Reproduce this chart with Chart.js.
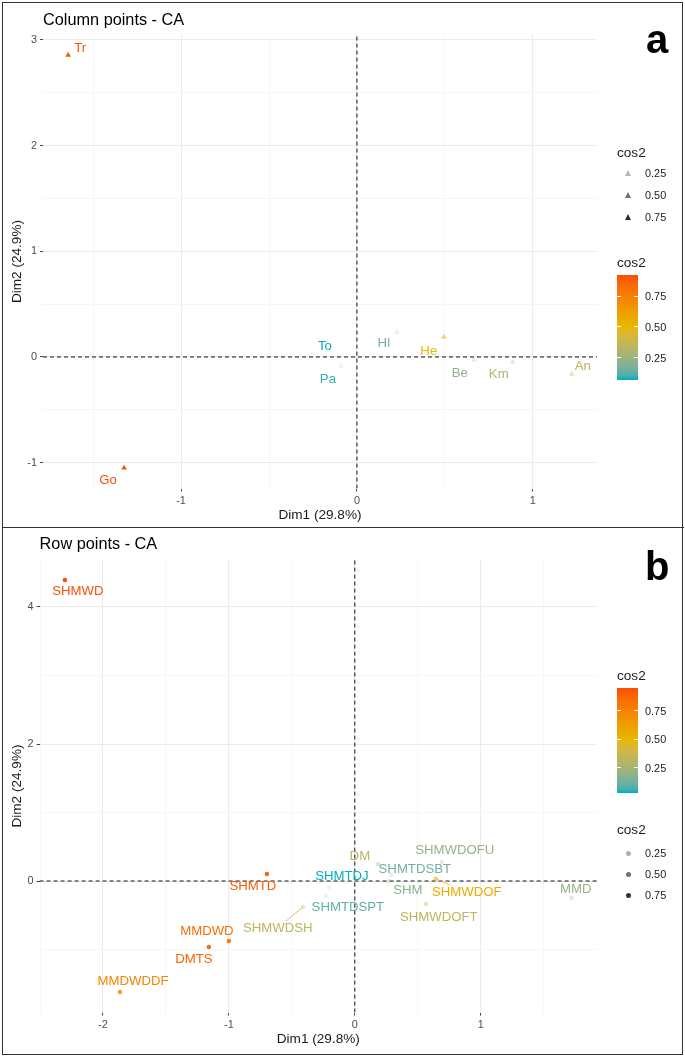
<!DOCTYPE html>
<html>
<head>
<meta charset="utf-8">
<title>CA - column and row points</title>
<script src="https://cdn.jsdelivr.net/npm/chart.js@4.4.1/dist/chart.umd.min.js"></script>
<style>
  html, body { margin: 0; padding: 0; background: #fff; }
  #page { position: relative; width: 685px; height: 1057px; overflow: hidden;
          font-family: "Liberation Sans", Arial, Helvetica, sans-serif; color: #1a1a1a; }
  #page canvas { position: absolute; left: 0; }
  .frame { position: absolute; left: 2px; top: 2px; width: 679px; height: 1051px; border: 1.5px solid #333; }
  .divider { position: absolute; left: 2px; top: 527px; width: 682px; border-top: 1.5px solid #333; }
  .letter { position: absolute; font-weight: bold; font-size: 40px; line-height: 40px; color: #000; }
  .lg { position: absolute; white-space: nowrap; }
  .lg-title { font-size: 13.6px; line-height: 16px; }
  .lg-text { font-size: 10.9px; line-height: 12px; }
</style>
</head>
<body>
<div id="page">
  <canvas id="colChart" width="685" height="528" style="top:0"></canvas>
  <canvas id="rowChart" width="685" height="527" style="top:528px"></canvas>
  <div class="frame"></div>
  <div class="divider"></div>
  <div class="letter" style="left:646px;top:19px">a</div>
  <div class="letter" style="left:645px;top:546px">b</div>
</div>
<script>
// column points (panel a)
const colNames = ['Tr', 'Go', 'To', 'Pa', 'Hl', 'He', 'Be', 'Km', 'An'];
const colDim1  = [-1.642, -1.324, -0.256, -0.091, 0.227, 0.494, 0.665, 0.886, 1.222];
const colDim2  = [ 2.857, -1.050,  0.038, -0.085, 0.236, 0.189, -0.028, -0.047, -0.161];
const colCos2  = [ 0.90,   0.92,   0.07,   0.09,  0.16,  0.50,  0.22,  0.31,  0.33];

// row points (panel b)
const rowNames = ['SHMWD', 'SHMTD', 'MMDWD', 'DMTS', 'MMDWDDF', 'SHMWDSH', 'SHMTDSPT', 'SHMTDJ',
                  'DM', 'SHMTDSBT', 'SHM', 'SHMWDOFU', 'SHMWDOF', 'SHMWDOFT', 'MMD'];
const rowDim1  = [-2.302, -0.698, -1.000, -1.159, -1.865, -0.413, -0.230, -0.206,
                   0.183,  0.286,  0.270,  0.690,  0.643,  0.563,  1.722];
const rowDim2  = [ 4.394,  0.102, -0.876, -0.964, -1.620, -0.380, -0.219, -0.088,
                   0.248,  0.088,  0.000,  0.277,  0.029, -0.336, -0.248];
const rowCos2  = [ 0.95,   0.90,   0.84,   0.88,   0.74,   0.32,   0.10,   0.03,
                   0.30,   0.13,   0.18,   0.21,   0.55,   0.33,   0.22];

// axis ticks and legend breaks
const colXTicks = [-1, 0, 1];
const colYTicks = [-1, 0, 1, 2, 3];
const rowXTicks = [-2, -1, 0, 1];
const rowYTicks = [0, 2, 4];
const legendBreaks = [0.25, 0.50, 0.75];
const dim1Title = 'Dim1 (29.8%)';
const dim2Title = 'Dim2 (24.9%)';

// where each repelled label sits relative to its point (px)
const colLabelShift = [[12, -7], [-16, 12], [13, -7], [-13, 13], [-13, 11], [-15, 14], [-14, 13], [-14, 12], [11, -8]];
const rowLabelShift = [[13, 11], [-14, 12], [-22, -10], [-15, 12], [13, -11], [-25, 21], [22, 11], [13, -11],
                       [-18, -8], [24, -6], [19, 9], [13, -12], [31, 13], [13, 13], [4, -9]];

const FONT = '"Liberation Sans", Arial, Helvetica, sans-serif';

// gradient teal -> yellow -> red, interpolated in Lab like ggplot
const GRAD = ['#00AFBB', '#E7B800', '#FC4E07'];
const WP = [0.95047, 1, 1.08883];
function hexRgb(h) { const n = parseInt(h.slice(1), 16); return [(n >> 16) & 255, (n >> 8) & 255, n & 255]; }
function toLin(c) { c /= 255; return c <= 0.04045 ? c / 12.92 : Math.pow((c + 0.055) / 1.055, 2.4); }
function fromLin(c) {
  const v = c <= 0.0031308 ? 12.92 * c : 1.055 * Math.pow(Math.max(c, 0), 1 / 2.4) - 0.055;
  return Math.round(Math.min(1, Math.max(0, v)) * 255);
}
function rgbLab(rgb) {
  const [r, g, b] = rgb.map(toLin);
  const xyz = [r * 0.4124 + g * 0.3576 + b * 0.1805, r * 0.2126 + g * 0.7152 + b * 0.0722, r * 0.0193 + g * 0.1192 + b * 0.9505];
  const f = xyz.map((v, i) => { const t = v / WP[i]; return t > 216 / 24389 ? Math.cbrt(t) : (24389 / 27 * t + 16) / 116; });
  return [116 * f[1] - 16, 500 * (f[0] - f[1]), 200 * (f[1] - f[2])];
}
function labRgb([L, A, B]) {
  const fy = (L + 16) / 116, fx = fy + A / 500, fz = fy - B / 200;
  const inv = t => (t * t * t > 216 / 24389 ? t * t * t : (116 * t - 16) / (24389 / 27));
  const X = inv(fx) * WP[0], Y = inv(fy) * WP[1], Z = inv(fz) * WP[2];
  return [3.2406 * X - 1.5372 * Y - 0.4986 * Z,
          -0.9689 * X + 1.8758 * Y + 0.0415 * Z,
          0.0557 * X - 0.2040 * Y + 1.0570 * Z].map(fromLin);
}
const GRAD_LAB = GRAD.map(h => rgbLab(hexRgb(h)));
function gradColour(t) {
  t = Math.min(1, Math.max(0, t));
  const seg = t < 0.5 ? 0 : 1, f = (t - seg * 0.5) * 2;
  const a = GRAD_LAB[seg], b = GRAD_LAB[seg + 1];
  return labRgb(a.map((v, i) => v + (b[i] - v) * f));
}

function limits(vals) {
  const lo = Math.min(...vals), hi = Math.max(...vals), pad = (hi - lo) * 0.05;
  return [lo - pad, hi + pad];
}
function isOn(v, list) { return list.some(m => Math.abs(m - v) < 1e-9); }

function axis(lim, majors, title, size, horizontal) {
  const step = (majors[1] - majors[0]) / 2;
  const major = c => c.tick && isOn(c.tick.value, majors);
  return {
    type: 'linear', min: lim[0], max: lim[1],
    afterBuildTicks: s => {
      const t = [];
      for (let k = Math.ceil(lim[0] / step - 1e-9); k * step <= lim[1] + 1e-9; k++) t.push({ value: +(k * step).toFixed(6) });
      s.ticks = t;
    },
    afterFit: s => { if (horizontal) s.height = size; else s.width = size; },
    grid: {
      color: c => major(c) ? '#EBEBEB' : '#F2F2F2',
      lineWidth: c => major(c) ? 1 : 0.7,
      tickColor: c => major(c) ? '#333333' : 'rgba(0,0,0,0)',
      tickLength: 3, tickWidth: 0.9, drawTicks: true
    },
    border: { display: false },
    ticks: {
      autoSkip: false, maxRotation: 0, padding: 3, color: '#4D4D4D',
      font: { size: 10.9, family: FONT },
      callback: v => isOn(v, majors) ? String(v) : ''
    },
    title: {
      display: true, text: title, color: '#1a1a1a', font: { size: 13.6, family: FONT },
      padding: horizontal ? { top: 0, bottom: 0 } : { top: 9, bottom: 0 }
    }
  };
}

function titlePlugin(text, y) {
  return {
    id: 'panelTitle',
    afterDraw(chart) {
      const ctx = chart.ctx;
      ctx.save();
      ctx.font = '16.3px ' + FONT;
      ctx.fillStyle = '#000';
      ctx.textAlign = 'left';
      ctx.textBaseline = 'middle';
      ctx.fillText(text, chart.chartArea.left, y);
      ctx.restore();
    }
  };
}

function labelPlugin(names, shift, colours) {
  return {
    id: 'repelLabels',
    afterDatasetsDraw(chart) {
      const ctx = chart.ctx, pts = chart.getDatasetMeta(0).data;
      ctx.save();
      ctx.font = '13.2px ' + FONT;
      ctx.textAlign = 'center';
      ctx.textBaseline = 'middle';
      pts.forEach((p, i) => {
        const cx = p.x + shift[i][0], cy = p.y + shift[i][1];
        const hw = ctx.measureText(names[i]).width / 2 + 1, hh = 7;
        const vx = p.x - cx, vy = p.y - cy, d = Math.hypot(vx, vy);
        const t = Math.min(vx ? hw / Math.abs(vx) : Infinity, vy ? hh / Math.abs(vy) : Infinity);
        // ggrepel only draws a segment when the label is pushed well away
        if (t < 1 && d * (1 - t) > 15) {
          ctx.strokeStyle = colours[i];
          ctx.lineWidth = 0.8;
          ctx.beginPath();
          ctx.moveTo(cx + vx * t, cy + vy * t);
          ctx.lineTo(p.x - vx / d * 2, p.y - vy / d * 2);
          ctx.stroke();
        }
        ctx.fillStyle = colours[i];
        ctx.fillText(names[i], cx, cy);
      });
      ctx.restore();
    }
  };
}

function panel(id, o) {
  const xl = limits(o.x), yl = limits(o.y);
  const lo = Math.min(...o.cos2), hi = Math.max(...o.cos2);
  const tOf = c => (c - lo) / (hi - lo);
  const rgb = o.cos2.map(c => gradColour(tOf(c)));
  const fill = o.cos2.map((c, i) => 'rgba(' + rgb[i].join(',') + ',' + (0.1 + 0.9 * tOf(c)).toFixed(3) + ')');
  const text = rgb.map(c => 'rgb(' + c.join(',') + ')');
  const dash = { type: 'line', borderColor: '#111', borderWidth: 1, borderDash: [4, 3], pointRadius: 0, fill: false };

  new Chart(document.getElementById(id), {
    type: 'scatter',
    data: {
      datasets: [
        { data: o.x.map((v, i) => ({ x: v, y: o.y[i] })), pointStyle: o.shape, pointRadius: o.radius,
          pointHoverRadius: o.radius, backgroundColor: fill, borderWidth: 0 },
        Object.assign({ data: [{ x: xl[0], y: 0 }, { x: xl[1], y: 0 }] }, dash),
        Object.assign({ data: [{ x: 0, y: yl[0] }, { x: 0, y: yl[1] }] }, dash)
      ]
    },
    options: {
      responsive: false, animation: false, events: [],
      layout: { padding: { left: 0, right: 88, top: o.top, bottom: o.bottom } },
      scales: {
        x: axis(xl, o.xTicks, dim1Title, 35.2, true),
        y: axis(yl, o.yTicks, dim2Title, o.yWidth, false)
      },
      plugins: { legend: { display: false }, tooltip: { enabled: false } }
    },
    plugins: [titlePlugin(o.title, o.titleY), labelPlugin(o.names, o.shift, text)]
  });
  return { lo, hi };
}

function legend(o) {
  const page = document.getElementById('page');
  const add = (cls, html, css) => {
    const d = document.createElement('div');
    d.className = cls; d.innerHTML = html; d.style.cssText = css;
    page.appendChild(d);
    return d;
  };
  const t = b => (b - o.lo) / (o.hi - o.lo);

  // alpha legend
  add('lg lg-title', 'cos2', 'left:617px;top:' + (o.alphaTitle - 8) + 'px');
  legendBreaks.forEach((b, i) => {
    const y = o.alphaItems[i], a = (0.1 + 0.9 * t(b)).toFixed(3);
    const sym = o.shape === 'triangle'
      ? 'left:624.5px;top:' + (y - 3) + 'px;width:0;height:0;border-left:3.5px solid transparent;border-right:3.5px solid transparent;border-bottom:6px solid rgba(0,0,0,' + a + ')'
      : 'left:625.5px;top:' + (y - 2.5) + 'px;width:5px;height:5px;border-radius:50%;background:rgba(0,0,0,' + a + ')';
    add('lg', '', sym);
    add('lg lg-text', b.toFixed(2), 'left:645px;top:' + (y - 6) + 'px');
  });

  // colour bar
  add('lg lg-title', 'cos2', 'left:617px;top:' + (o.barTitle - 8) + 'px');
  const stops = [];
  for (let k = 0; k <= 24; k++) stops.push('rgb(' + gradColour(k / 24).join(',') + ') ' + (k / 24 * 100).toFixed(1) + '%');
  const h = o.barBottom - o.barTop;
  add('lg', '', 'left:617px;top:' + o.barTop + 'px;width:21px;height:' + h + 'px;background:linear-gradient(to top,' + stops.join(',') + ')');
  legendBreaks.forEach(b => {
    const y = o.barBottom - t(b) * h;
    add('lg', '', 'left:617px;top:' + (y - 0.5) + 'px;width:4px;height:1px;background:#fff');
    add('lg', '', 'left:634px;top:' + (y - 0.5) + 'px;width:4px;height:1px;background:#fff');
    add('lg lg-text', b.toFixed(2), 'left:645px;top:' + (y - 6) + 'px');
  });
}

const colRange = panel('colChart', {
  names: colNames, x: colDim1, y: colDim2, cos2: colCos2, shift: colLabelShift,
  xTicks: colXTicks, yTicks: colYTicks, shape: 'triangle', radius: 3.3,
  title: 'Column points - CA', titleY: 21, top: 34.4, bottom: 4.2, yWidth: 43
});
const rowRange = panel('rowChart', {
  names: rowNames, x: rowDim1, y: rowDim2, cos2: rowCos2, shift: rowLabelShift,
  xTicks: rowXTicks, yTicks: rowYTicks, shape: 'circle', radius: 2.3,
  title: 'Row points - CA', titleY: 16.5, top: 31.4, bottom: 7.2, yWidth: 39.6
});

legend({ lo: colRange.lo, hi: colRange.hi, shape: 'triangle',
         alphaTitle: 153, alphaItems: [173, 195, 217], barTitle: 263, barTop: 275, barBottom: 380 });
legend({ lo: rowRange.lo, hi: rowRange.hi, shape: 'circle',
         alphaTitle: 830, alphaItems: [853, 874, 895], barTitle: 676, barTop: 688, barBottom: 793 });
</script>
</body>
</html>
